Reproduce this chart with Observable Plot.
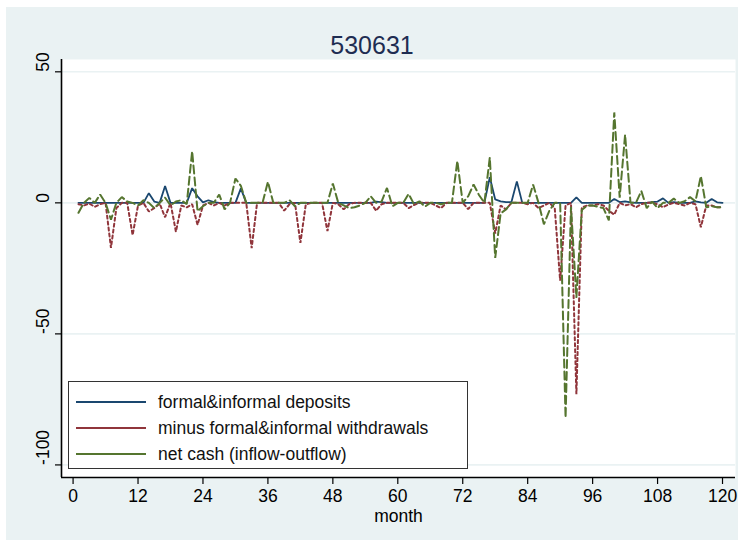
<!DOCTYPE html>
<html><head><meta charset="utf-8">
<script src="https://cdn.jsdelivr.net/npm/d3@7"></script>
<script src="https://cdn.jsdelivr.net/npm/@observablehq/plot@0.6"></script>
<style>
html,body{margin:0;padding:0;background:#fff;}
#wrap{position:relative;width:744px;height:546px;font-family:"Liberation Sans",Arial,sans-serif;overflow:hidden;}
#bg{position:absolute;left:6px;top:7px;width:732px;height:533px;background:#eaf2f3;}
#chart{position:absolute;left:0;top:0;}
#title{position:absolute;left:0;width:744px;top:31px;text-align:center;font-size:25px;line-height:28px;color:#1e2d52;}
#legend{position:absolute;left:68px;top:381px;width:400px;height:88px;background:#fff;border:1.5px solid #333;box-sizing:border-box;}
.item{position:absolute;left:7px;height:22px;display:flex;align-items:center;font-size:17.5px;color:#111;white-space:nowrap;}
.swatch{width:70px;height:0;border-top:2.2px solid;margin-right:12px;}
</style>
</head><body>
<div id="wrap">
  <div id="bg"></div>
  <div id="chart"></div>
  <div id="title"></div>
  <div id="legend"></div>
</div>
<script>
const titleText = "530631";
const xLabel = "month";
const seriesNames = ["formal&informal deposits", "minus formal&informal withdrawals", "net cash (inflow-outflow)"];
const seriesColors = ["#1a476f", "#90353b", "#55752f"];
const seriesDash = [null, "3,3", "8,4"];

const months = Array.from({length: 120}, (_, i) => i + 1);

const deposits = [
  0,0,0,0,0,0,0,0,0,0,
  0,0,0,3.7,0.5,0,6.4,0,0,0,
  0,5.6,2.5,0.2,1,0.3,0,0,0,0,
  5.5,0,0,0,0,0,0,0,0,0,
  0,0,0,0,0,0,0,0,0,0,
  0,0,0,0,0,0.5,0.3,0,0,0,
  0,0,0,0,0,0,0,0,0,0,
  0,0,0,0,0,0,9.8,1.3,0.6,0.3,
  0.3,8.2,0,0,0,0,0,0,0,0,
  0,0,2.1,0,0,0,0,0,0,1.5,
  0.3,0.6,0.2,0,0,0,0.3,0.5,1.7,0,
  0.3,0,0,0,0.6,0.2,0,1.5,0.2,0
];

const withdrawals = [
  -0.5,-1,-0.3,-1.5,-0.5,0,-17.2,-2,0,0,
  -12.3,-1,0,-3.3,-2,-0.3,-5.5,0,-11,-1,
  -1.7,-0.5,-8.4,-1,0,-1,0,-1,0,0,
  0,0,-17.3,0,0,0,0,0,-3,-0.5,
  0,-15.3,-0.6,0,0,0,-10.8,0,-0.5,-2.5,
  -0.5,0,0,0,0,-3,-0.5,0,0,0,
  0,-2,-0.8,0,0,0,-1,-2,0,0,
  0,0,-2.4,0,0,0,0,-11.7,-1,-2.5,
  0,0,0,-0.5,0,-2,-1,0,-2,-29.7,
  -1,0,-73,-1.7,-1,-1,-0.5,-1,-3,-4.5,
  0,-1,-0.5,-1.7,-0.5,0,0,-0.5,-1.7,-0.6,
  0,-0.5,-1,0,-0.5,-9.3,-1,-1,-1.7,-1.7
];

const netCash = [
  -3.8,0,1.9,0,3.2,0,-6.4,0,2.2,0.5,
  0,-1,1,0,-2,0,2,-1,0.5,1,
  -0.5,19.7,-3.2,-1.3,0,0,3.2,-2.5,0,9.3,
  6.5,0,0,0,0,8,0,0,0,1,
  -1.3,0,0,0,0,0,0,7.4,0,-1,
  -2,-1.7,-1,0,2.5,0,0.5,5.7,-1.3,0,
  0,3.4,-0.5,0.6,-1.5,0,0,-0.5,0,0,
  16,0,2.5,7,3,0,17.3,-21,-4,-2.5,
  0,0,0,0,7,0,-8.2,-3,0,0,
  -82,-1.5,-36,-2.7,-1,-1,-1.5,-2,-6.7,34.5,
  2,26,0,0,4.5,-2,0.5,-2,0,0,
  1.6,0,0.6,2.2,0.6,10.2,-1.7,-1.3,-1.7,-1.7
];

const xTicks = [0, 12, 24, 36, 48, 60, 72, 84, 96, 108, 120];
const yTicks = [50, 0, -50, -100];
const yTickLabels = ["50", "0", "-50", "-100"];
const xDomain = [-2.14, 122.4];
const yDomain = [-104.8, 54.7];

const seriesValues = [deposits, withdrawals, netCash];
const rows = [];
seriesValues.forEach((vals, s) => {
  vals.forEach((v, i) => rows.push({month: months[i], value: v, series: seriesNames[s]}));
});

const lineMarks = seriesNames.map((name, s) =>
  Plot.line(rows.filter(r => r.series === name), {
    x: "month", y: "value",
    stroke: seriesColors[s],
    strokeWidth: s === 0 ? 1.8 : 2,
    strokeDasharray: seriesDash[s],
    strokeLinejoin: "miter"
  })
);

const chart = Plot.plot({
  width: 744, height: 546,
  marginLeft: 61, marginRight: 9, marginTop: 59, marginBottom: 69,
  x: {domain: xDomain},
  y: {domain: yDomain},
  style: {fontFamily: "'Liberation Sans', Arial, sans-serif", fontSize: "17px", background: "transparent", color: "black", overflow: "visible"},
  marks: [
    Plot.frame({fill: "white", stroke: null}),
    Plot.ruleY(yTicks, {stroke: "#eaf2f3", strokeWidth: 1.6}),
    ...lineMarks,
    Plot.ruleX([xDomain[0]], {stroke: "black", strokeWidth: 1.6}),
    Plot.ruleY([yDomain[0]], {stroke: "black", strokeWidth: 1.6}),
    Plot.axisX({ticks: xTicks, tickSize: 7, tickPadding: 5, fontSize: 17.5, label: null, stroke: "black", strokeWidth: 1.2}),
    Plot.axisY({ticks: yTicks, tickSize: 6, tickFormat: () => "", label: null, stroke: "black", strokeWidth: 1.2}),
    Plot.text(yTicks, {y: d => d, text: (d, i) => yTickLabels[i], frameAnchor: "left", dx: -18, rotate: -90, fontSize: 17.5, fill: "black"}),
    Plot.text([xLabel], {frameAnchor: "bottom", dy: 44, text: d => d, fontSize: 17.5, fill: "black"})
  ]
});
document.getElementById("chart").appendChild(chart);
document.getElementById("title").textContent = titleText;

const legend = document.getElementById("legend");
const itemTops = [9, 35, 61];
seriesNames.forEach((name, s) => {
  const item = document.createElement("div");
  item.className = "item";
  item.style.top = itemTops[s] + "px";
  const sw = document.createElement("div");
  sw.className = "swatch";
  sw.style.borderTopColor = seriesColors[s];
  const t = document.createElement("span");
  t.textContent = name;
  item.appendChild(sw);
  item.appendChild(t);
  legend.appendChild(item);
});
</script>
</body></html>
